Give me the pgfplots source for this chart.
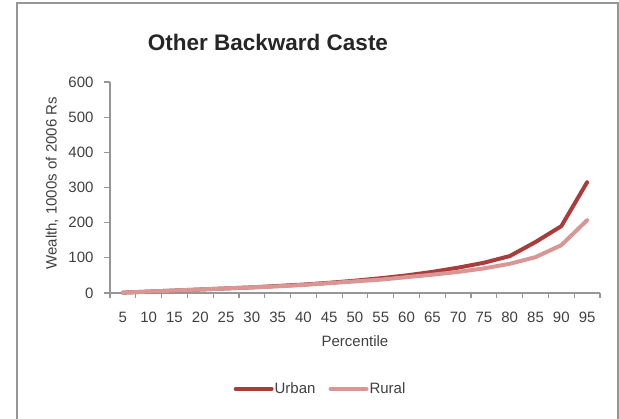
\documentclass[border=0pt]{standalone}
\usepackage{pgfplots}
\pgfplotsset{compat=1.18}
\usepackage{fontspec}
\setmainfont{Liberation Sans}

\definecolor{urban}{RGB}{170,60,60}
\definecolor{rural}{RGB}{217,150,149}
\definecolor{axisgray}{RGB}{150,150,150}
\definecolor{textgray}{RGB}{64,64,64}

\begin{document}
\begin{tikzpicture}[x=1pt,y=1pt]
  \path[use as bounding box] (0,0) rectangle (619,419);
  \draw[axisgray, line width=1.5pt] (17,-5) -- (17,416) -- (618,416) -- (618,-5);
  \node[font=\fontsize{22.5}{26}\selectfont\bfseries, text=black!85] at (268,377) {Other Backward Caste};
  \begin{axis}[
    at={(110pt,126pt)}, anchor=south west,
    width=490pt, height=211pt, scale only axis,
    xmin=0.5, xmax=19.5, ymin=0, ymax=600,
    axis x line=bottom, axis y line=left,
    axis line style={axisgray, line width=1.2pt, -},
    every tick/.style={axisgray, line width=1.2pt},
    tick align=outside,
    xtick={1,...,19},
    xticklabels={5,10,15,20,25,30,35,40,45,50,55,60,65,70,75,80,85,90,95},
    major x tick style={draw=none},
    minor xtick={0.5,1.5,...,19.5},
    minor tick length=5pt,
    major tick length=6pt,
    ytick={0,100,...,600},
    ticklabel style={font=\fontsize{15}{17}\selectfont, text=textgray},
    /pgf/number format/assume math mode=true,
    xticklabel style={anchor=base, yshift=-24pt},
    yticklabel style={xshift=-7pt},
    xlabel={Percentile},
    ylabel={Wealth, 1000s of 2006 Rs},
    label style={font=\fontsize{15}{17}\selectfont, text=textgray},
    xlabel style={at={(axis description cs:0.5,-0.227)}, anchor=center},
    ylabel style={at={(axis description cs:-0.118,0.52)}, anchor=center},
    legend columns=2,
    legend style={at={(0.4286,-0.455)}, anchor=center, draw=none,
      font=\fontsize{15}{17}\selectfont, text=textgray,
      /tikz/every even column/.append style={column sep=12pt},
      nodes={inner xsep=1pt}},
    legend image code/.code={\draw[#1, line cap=round] (0pt,0pt) -- (36pt,0pt);},
    clip=false,
  ]
    \addplot[urban, line width=4pt, line cap=round, line join=round] coordinates {
      (1,1) (2,4) (3,7) (4,10) (5,13) (6,16) (7,20) (8,24) (9,29) (10,35)
      (11,42) (12,50) (13,60) (14,72) (15,86) (16,105) (17,145) (18,190) (19,315)
    };
    \addlegendentry{Urban}
    \addplot[rural, line width=4pt, line cap=round, line join=round] coordinates {
      (1,1) (2,4) (3,7) (4,10) (5,13) (6,16) (7,19) (8,23) (9,28) (10,33)
      (11,38) (12,45) (13,52) (14,60) (15,70) (16,83) (17,102) (18,136) (19,207)
    };
    \addlegendentry{Rural}
  \end{axis}
\end{tikzpicture}
\end{document}
